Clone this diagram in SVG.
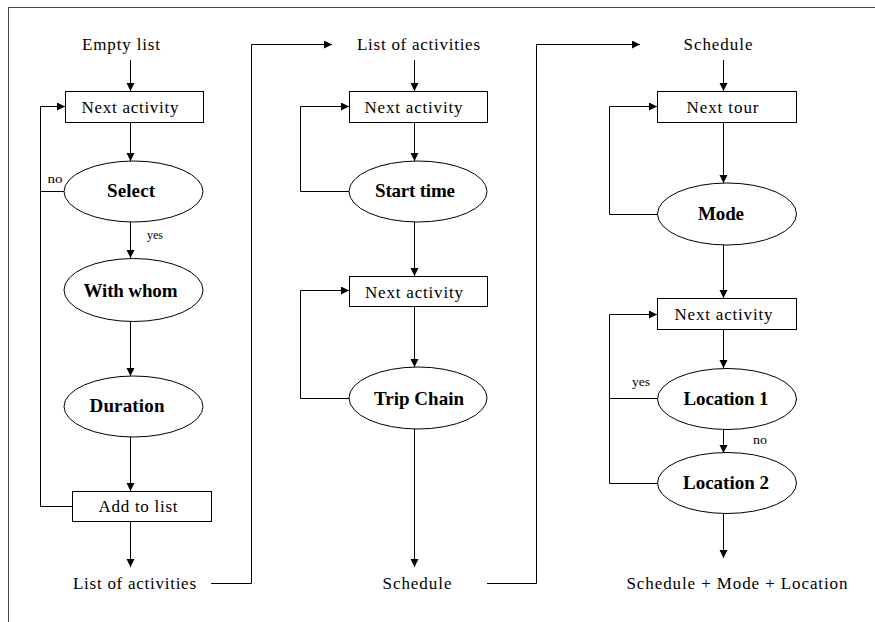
<svg xmlns="http://www.w3.org/2000/svg" width="875" height="622" viewBox="0 0 875 622">
<style>
.b{fill:#fff;stroke:#000;stroke-width:1}
.t{font-family:"Liberation Serif","Times New Roman",serif;font-size:17px;fill:#000;text-anchor:middle}
.bt{font-family:"Liberation Serif","Times New Roman",serif;font-size:19px;font-weight:bold;fill:#000;text-anchor:middle}
.s{font-family:"Liberation Serif","Times New Roman",serif;font-size:12px;fill:#000;text-anchor:middle}
.c{fill:none;stroke:#000;stroke-width:1}
</style>
<defs>
<marker id="ah" markerUnits="userSpaceOnUse" markerWidth="9" markerHeight="9" refX="8" refY="4" orient="auto">
<path d="M0,0 L8,4 L0,8 z" fill="#000"/>
</marker>
</defs>
<rect x="0" y="0" width="875" height="622" fill="#fff"/>
<rect x="8.5" y="7.5" width="880" height="630" fill="none" stroke="#444" stroke-width="1"/>

<g id="connectors">
<path class="c" d="M130.5,60 V91" marker-end="url(#ah)"/>
<path class="c" d="M130.5,122 V161" marker-end="url(#ah)"/>
<path class="c" d="M130.5,222 V258" marker-end="url(#ah)"/>
<path class="c" d="M130.5,321 V376" marker-end="url(#ah)"/>
<path class="c" d="M130.5,437 V491" marker-end="url(#ah)"/>
<path class="c" d="M130.5,522 V567" marker-end="url(#ah)"/>
<path class="c" d="M72.5,506.5 H40.5 V106.5 H65" marker-end="url(#ah)"/>
<path class="c" d="M64,191.5 H40.5"/>
<path class="c" d="M211,583.5 H251.5 V44.5 H332" marker-end="url(#ah)"/>

<path class="c" d="M414.5,60 V91" marker-end="url(#ah)"/>
<path class="c" d="M414.5,122 V161" marker-end="url(#ah)"/>
<path class="c" d="M414.5,222 V276" marker-end="url(#ah)"/>
<path class="c" d="M414.5,306 V367" marker-end="url(#ah)"/>
<path class="c" d="M414.5,429 V567" marker-end="url(#ah)"/>
<path class="c" d="M349,191.5 H300.5 V106.5 H349" marker-end="url(#ah)"/>
<path class="c" d="M349,398.5 H300.5 V290.5 H349" marker-end="url(#ah)"/>
<path class="c" d="M487,583.5 H536.5 V44.5 H640" marker-end="url(#ah)"/>

<path class="c" d="M723.5,60 V91" marker-end="url(#ah)"/>
<path class="c" d="M723.5,122 V183" marker-end="url(#ah)"/>
<path class="c" d="M723.5,245 V298" marker-end="url(#ah)"/>
<path class="c" d="M723.5,329 V368" marker-end="url(#ah)"/>
<path class="c" d="M723.5,429 V453" marker-end="url(#ah)"/>
<path class="c" d="M723.5,513 V558" marker-end="url(#ah)"/>
<path class="c" d="M657,214.5 H609.5 V106.5 H657" marker-end="url(#ah)"/>
<path class="c" d="M657,483.5 H609.5 V314.5 H657" marker-end="url(#ah)"/>
<path class="c" d="M657,398.5 H609.5"/>
</g>

<g id="labels">
<text class="s" x="55" y="183" textLength="15" lengthAdjust="spacingAndGlyphs">no</text>
<text class="s" x="155" y="239" textLength="16" lengthAdjust="spacingAndGlyphs">yes</text>
<text class="s" x="641" y="386" textLength="18" lengthAdjust="spacingAndGlyphs">yes</text>
<text class="s" x="760" y="444" textLength="14" lengthAdjust="spacingAndGlyphs">no</text>
</g>

<g id="empty-list"><text class="t" x="121" y="50" textLength="78" lengthAdjust="spacing">Empty list</text></g>
<g id="next-activity-1"><rect class="b" x="65.5" y="91.5" width="138" height="31"/><text class="t" x="130" y="113" textLength="97" lengthAdjust="spacing">Next activity</text></g>
<g id="select"><ellipse class="b" cx="133.5" cy="191.5" rx="69.5" ry="30.5"/><text class="bt" x="131" y="197" textLength="48" lengthAdjust="spacing">Select</text></g>
<g id="with-whom"><ellipse class="b" cx="133.5" cy="290" rx="69.5" ry="31.5"/><text class="bt" x="130.5" y="297" textLength="94" lengthAdjust="spacing">With whom</text></g>
<g id="duration"><ellipse class="b" cx="133.5" cy="406.5" rx="69.5" ry="30.5"/><text class="bt" x="127" y="412" textLength="75" lengthAdjust="spacing">Duration</text></g>
<g id="add-to-list"><rect class="b" x="72.5" y="491.5" width="139" height="30"/><text class="t" x="138" y="512" textLength="79" lengthAdjust="spacing">Add to list</text></g>
<g id="list-of-activities-1"><text class="t" x="134.5" y="589" textLength="123" lengthAdjust="spacing">List of activities</text></g>

<g id="list-of-activities-2"><text class="t" x="418.5" y="50" textLength="123" lengthAdjust="spacing">List of activities</text></g>
<g id="next-activity-2"><rect class="b" x="349.5" y="91.5" width="138" height="31"/><text class="t" x="413.5" y="113" textLength="98" lengthAdjust="spacing">Next activity</text></g>
<g id="start-time"><ellipse class="b" cx="418" cy="191.5" rx="69" ry="30.5"/><text class="bt" x="415" y="197" textLength="80" lengthAdjust="spacing">Start time</text></g>
<g id="next-activity-3"><rect class="b" x="349.5" y="276.5" width="138" height="30"/><text class="t" x="414" y="297.5" textLength="98" lengthAdjust="spacing">Next activity</text></g>
<g id="trip-chain"><ellipse class="b" cx="418" cy="398" rx="69" ry="31"/><text class="bt" x="419" y="404.5" textLength="90" lengthAdjust="spacing">Trip Chain</text></g>
<g id="schedule-1"><text class="t" x="417" y="589" textLength="69" lengthAdjust="spacing">Schedule</text></g>

<g id="schedule-2"><text class="t" x="718" y="50" textLength="69" lengthAdjust="spacing">Schedule</text></g>
<g id="next-tour"><rect class="b" x="657.5" y="91.5" width="139" height="31"/><text class="t" x="722.5" y="113" textLength="72" lengthAdjust="spacing">Next tour</text></g>
<g id="mode"><ellipse class="b" cx="727" cy="214" rx="69.5" ry="31"/><text class="bt" x="721" y="220" textLength="46" lengthAdjust="spacing">Mode</text></g>
<g id="next-activity-4"><rect class="b" x="657.5" y="298.5" width="139" height="31"/><text class="t" x="723.5" y="320" textLength="98" lengthAdjust="spacing">Next activity</text></g>
<g id="location-1"><ellipse class="b" cx="727" cy="399" rx="69.5" ry="30.5"/><text class="bt" x="726" y="405" textLength="85" lengthAdjust="spacing">Location 1</text></g>
<g id="location-2"><ellipse class="b" cx="727" cy="483" rx="69.5" ry="30.5"/><text class="bt" x="726" y="489" textLength="86" lengthAdjust="spacing">Location 2</text></g>
<g id="final"><text class="t" x="737" y="589" textLength="221" lengthAdjust="spacing">Schedule + Mode + Location</text></g>
</svg>
